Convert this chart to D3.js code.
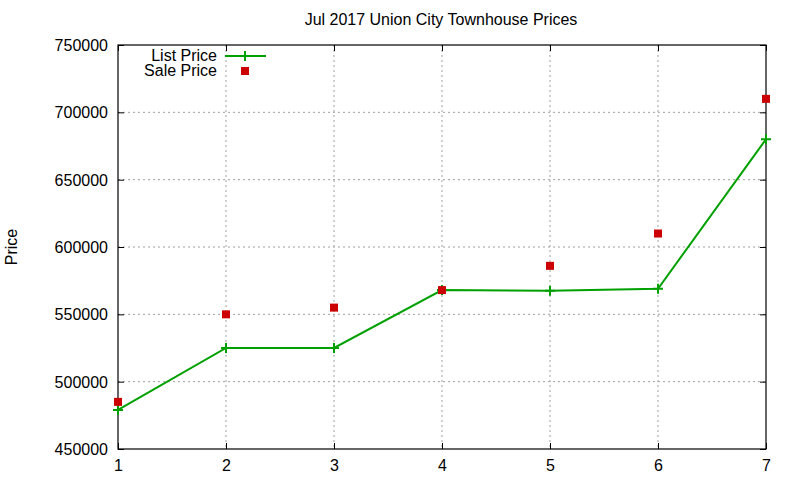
<!DOCTYPE html>
<html>
<head>
<meta charset="utf-8">
<script src="https://cdn.jsdelivr.net/npm/d3@7"></script>
<style>
    body { margin: 0; background: #fff; }
    text { font-family: "Liberation Sans", Arial, sans-serif; }
</style>
</head>
<body>
<div id="chart"></div>
<script>
// Data
const months = [1, 2, 3, 4, 5, 6, 7];
const listPrice = [479000, 525000, 525000, 568000, 567500, 569000, 680000];
const salePrice = [485000, 550000, 555000, 568000, 586000, 610000, 710000];
const yTicks = [450000, 500000, 550000, 600000, 650000, 700000, 750000];

const W = 800, H = 480;
const margin = { top: 45, right: 34, bottom: 31, left: 118 };
const width = W - margin.left - margin.right;
const height = H - margin.top - margin.bottom;
const fontSize = '16px';

const svg = d3.select('#chart')
    .append('svg')
    .attr('width', W)
    .attr('height', H);

const g = svg.append('g')
    .attr('transform', `translate(${margin.left},${margin.top})`);

const xScale = d3.scaleLinear().domain([1, 7]).range([0, width]);
const yScale = d3.scaleLinear().domain([450000, 750000]).range([height, 0]);

// Grid lines
g.append('g')
    .selectAll('line')
    .data(months.slice(1, -1))
    .enter()
    .append('line')
    .attr('x1', d => xScale(d)).attr('x2', d => xScale(d))
    .attr('y1', 0).attr('y2', height)
    .attr('stroke', '#a0a0a0')
    .attr('stroke-dasharray', '2,3');

g.append('g')
    .selectAll('line')
    .data(yTicks.slice(1, -1))
    .enter()
    .append('line')
    .attr('x1', 0).attr('x2', width)
    .attr('y1', d => yScale(d)).attr('y2', d => yScale(d))
    .attr('stroke', '#a0a0a0')
    .attr('stroke-dasharray', '2,3');

// Axes with inward ticks on all sides
const tickLen = 6;
const axBottom = g.append('g')
    .attr('transform', `translate(0,${height})`)
    .call(d3.axisBottom(xScale).tickValues(months).tickSizeInner(-tickLen).tickSizeOuter(0).tickPadding(11).tickFormat(d3.format('d')));
const axTop = g.append('g')
    .call(d3.axisTop(xScale).tickValues(months).tickSizeInner(-tickLen).tickSizeOuter(0).tickFormat(''));
const axLeft = g.append('g')
    .call(d3.axisLeft(yScale).tickValues(yTicks).tickSizeInner(-tickLen).tickSizeOuter(0).tickPadding(10).tickFormat(d3.format('d')));
const axRight = g.append('g')
    .attr('transform', `translate(${width},0)`)
    .call(d3.axisRight(yScale).tickValues(yTicks).tickSizeInner(-tickLen).tickSizeOuter(0).tickFormat(''));

[axBottom, axTop, axLeft, axRight].forEach(a => {
    a.select('.domain').remove();
    a.selectAll('line').attr('stroke', '#000');
    a.selectAll('text').attr('font-size', fontSize).attr('fill', '#000')
        .style('font-family', '"Liberation Sans", Arial, sans-serif');
});
axLeft.selectAll('text').attr('dy', '0.35em');

// Border
g.append('rect')
    .attr('width', width).attr('height', height)
    .attr('fill', 'none')
    .attr('stroke', '#000')
    .attr('stroke-width', 1.2);

// List price line
const green = '#00a000';
const red = '#cc0000';
const line = d3.line()
    .x((d, i) => xScale(months[i]))
    .y(d => yScale(d));

g.append('path')
    .datum(listPrice)
    .attr('d', line)
    .attr('fill', 'none')
    .attr('stroke', green)
    .attr('stroke-width', 2);

// Plus markers
function plus(sel, x, y) {
    sel.append('path')
        .attr('d', `M${x - 5},${y}H${x + 5}M${x},${y - 5}V${y + 5}`)
        .attr('stroke', green)
        .attr('stroke-width', 2)
        .attr('fill', 'none');
}
listPrice.forEach((v, i) => plus(g, xScale(months[i]), yScale(v)));

// Sale price squares
g.selectAll('rect.sale')
    .data(salePrice)
    .enter()
    .append('rect')
    .attr('class', 'sale')
    .attr('x', (d, i) => xScale(months[i]) - 4)
    .attr('y', d => yScale(d) - 4)
    .attr('width', 8)
    .attr('height', 8)
    .attr('fill', red);

// Title
svg.append('text')
    .attr('x', 441)
    .attr('y', 25)
    .attr('text-anchor', 'middle')
    .attr('font-size', fontSize)
    .text('Jul 2017 Union City Townhouse Prices');

// Y label
svg.append('text')
    .attr('transform', `translate(17,${margin.top + height / 2}) rotate(-90)`)
    .attr('text-anchor', 'middle')
    .attr('font-size', fontSize)
    .text('Price');

// Legend
const legend = svg.append('g');
legend.append('text')
    .attr('x', 217).attr('y', 61)
    .attr('text-anchor', 'end')
    .attr('font-size', fontSize)
    .text('List Price');
legend.append('line')
    .attr('x1', 225).attr('x2', 266)
    .attr('y1', 56).attr('y2', 56)
    .attr('stroke', green)
    .attr('stroke-width', 2);
plus(legend, 245, 56);

legend.append('text')
    .attr('x', 217).attr('y', 76)
    .attr('text-anchor', 'end')
    .attr('font-size', fontSize)
    .text('Sale Price');
legend.append('rect')
    .attr('x', 241).attr('y', 67)
    .attr('width', 8).attr('height', 8)
    .attr('fill', red);
</script>
</body>
</html>
